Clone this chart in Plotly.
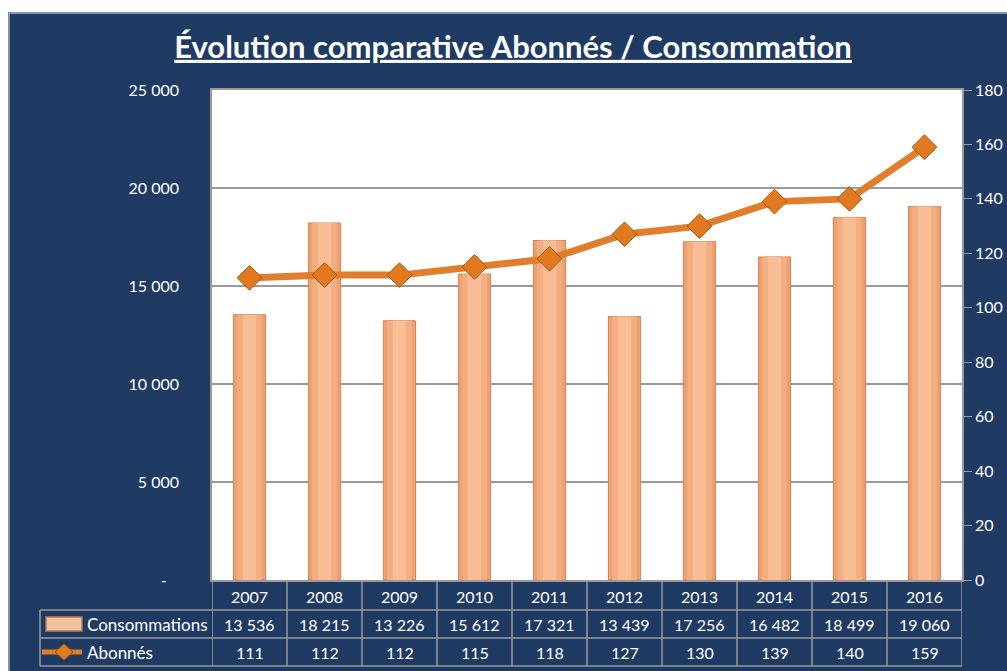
import plotly.graph_objects as go

# data
years = ["2007", "2008", "2009", "2010", "2011", "2012", "2013", "2014", "2015", "2016"]
consommations = [13536, 18215, 13226, 15612, 17321, 13439, 17256, 16482, 18499, 19060]
abonnes = [111, 112, 112, 115, 118, 127, 130, 139, 140, 159]

left_tickvals = [0, 5000, 10000, 15000, 20000, 25000]
left_ticktext = ["-\u00a0\u00a0\u00a0", "5 000", "10 000", "15 000", "20 000", "25 000"]
right_tickvals = [0, 20, 40, 60, 80, 100, 120, 140, 160, 180]

row_labels = ["Consommations", "Abonnés"]

BG = "#1F3A63"
GRID = "#9A9A9A"
LINE = "#E07E2C"
FONT = "Lato"

# numeric positions for the year categories
xpos = list(range(len(years)))


# plot area in pixels: x 212..962, y 90..580
def px_x(px):
    return (px - 212) / 750


def px_y(py):
    return (580 - py) / 490


def fmt(v):
    return f"{v:,}".replace(",", " ")


fig = go.Figure()

# bars drawn in three layers to fake the cylinder shading
for w, col, edge in [(0.43, "#EDA070", "#CC8458"), (0.33, "#F3AD80", None), (0.18, "#F8BD95", None)]:
    fig.add_trace(
        go.Bar(
            x=xpos,
            y=consommations,
            name=row_labels[0],
            width=w,
            marker=dict(color=col, line=dict(color=edge or col, width=1 if edge else 0)),
        )
    )

fig.add_trace(
    go.Scatter(
        x=xpos,
        y=abonnes,
        name=row_labels[1],
        yaxis="y2",
        mode="lines+markers",
        line=dict(color=LINE, width=7),
        marker=dict(symbol="diamond", size=19, color="#E2791F", line=dict(color="#A85814", width=1)),
    )
)

# data table under the chart
row_y = [px_y(624), px_y(652)]
annotations = []
for i, (label, vals) in enumerate([(row_labels[0], consommations), (row_labels[1], abonnes)]):
    annotations.append(
        dict(x=px_x(85), y=row_y[i], xref="paper", yref="paper", text=label,
             xanchor="left", yanchor="middle", showarrow=False,
             font=dict(color="white", size=17, family=FONT))
    )
    for xp, v in zip(xpos, vals):
        annotations.append(
            dict(x=xp, y=row_y[i], xref="x", yref="paper", text=fmt(v),
                 xanchor="center", yanchor="middle", showarrow=False,
                 font=dict(color="white", size=16, family=FONT))
        )

shapes = []
# white margin around the dark frame
shapes.append(dict(type="rect", xref="paper", yref="paper", x0=px_x(-5), x1=px_x(1012),
                   y0=px_y(12), y1=px_y(-5), fillcolor="white", line=dict(width=0), layer="below"))
shapes.append(dict(type="rect", xref="paper", yref="paper", x0=px_x(-5), x1=px_x(8),
                   y0=px_y(676), y1=px_y(12), fillcolor="white", line=dict(width=0), layer="below"))
shapes.append(dict(type="path", xref="paper", yref="paper",
                   path=f"M {px_x(9)},{px_y(676)} L {px_x(9)},{px_y(13)} L {px_x(1012)},{px_y(13)}",
                   line=dict(color="#7F93B3", width=2), layer="below"))

# table grid
for k in range(len(years) + 1):
    shapes.append(dict(type="line", xref="x", yref="paper", x0=k - 0.5, x1=k - 0.5,
                       y0=px_y(580), y1=px_y(666), line=dict(color=GRID, width=1.5)))
for py in [610, 638, 666]:
    shapes.append(dict(type="line", xref="paper", yref="paper", x0=px_x(40), x1=1,
                       y0=px_y(py), y1=px_y(py), line=dict(color=GRID, width=1.5)))
shapes.append(dict(type="line", xref="paper", yref="paper", x0=px_x(40), x1=px_x(40),
                   y0=px_y(610), y1=px_y(666), line=dict(color=GRID, width=1.5)))

# legend keys in the table
shapes.append(dict(type="rect", xref="paper", yref="paper", x0=px_x(46), x1=px_x(82),
                   y0=px_y(631), y1=px_y(617), fillcolor="#F3C29C",
                   line=dict(color="#B87A52", width=1.5)))
shapes.append(dict(type="line", xref="paper", yref="paper", x0=px_x(42), x1=px_x(82),
                   y0=px_y(652), y1=px_y(652), line=dict(color=LINE, width=5)))
cx, cy = 64, 652
shapes.append(dict(type="path", xref="paper", yref="paper",
                   path=(f"M {px_x(cx - 9)},{px_y(cy)} L {px_x(cx)},{px_y(cy - 8)} "
                         f"L {px_x(cx + 9)},{px_y(cy)} L {px_x(cx)},{px_y(cy + 8)} Z"),
                   fillcolor="#E2791F", line=dict(color="#A85814", width=1)))

fig.update_layout(
    width=1007,
    height=671,
    margin=dict(l=212, r=45, t=90, b=91),
    paper_bgcolor=BG,
    plot_bgcolor="white",
    showlegend=False,
    barmode="overlay",
    title=dict(
        text="<b><u>Évolution comparative Abonnés / Consommation</u></b>",
        x=513 / 1007, xanchor="center", y=1 - 47 / 671, yanchor="middle", yref="container",
        font=dict(color="white", size=31, family=FONT),
    ),
    font=dict(family=FONT, color="white", size=16),
    xaxis=dict(
        range=[-0.5, len(years) - 0.5],
        tickvals=xpos,
        ticktext=years,
        showgrid=False,
        showline=True,
        linecolor=GRID,
        linewidth=1.5,
        mirror=True,
        ticks="",
        ticklabelstandoff=2,
        tickfont=dict(size=16, color="white"),
        zeroline=False,
        automargin=False,
    ),
    yaxis=dict(
        range=[0, 25000],
        tickvals=left_tickvals,
        ticktext=left_ticktext,
        showgrid=True,
        gridcolor=GRID,
        gridwidth=1.5,
        showline=True,
        linecolor=GRID,
        linewidth=1.5,
        ticks="",
        ticklabelstandoff=28,
        tickfont=dict(size=16, color="white"),
        zeroline=False,
        automargin=False,
    ),
    yaxis2=dict(
        range=[0, 180],
        tickvals=right_tickvals,
        overlaying="y",
        side="right",
        showgrid=False,
        showline=True,
        linecolor=GRID,
        linewidth=1.5,
        ticks="outside",
        ticklen=8,
        tickcolor=GRID,
        tickfont=dict(size=16, color="white"),
        zeroline=False,
        automargin=False,
    ),
    annotations=annotations,
    shapes=shapes,
)

# the page has a default 8px body margin; drop it so the figure sits at the corner
fig.write_html(
    "out.html",
    config={"displayModeBar": False},
    post_script="document.body.style.margin='0';",
)
